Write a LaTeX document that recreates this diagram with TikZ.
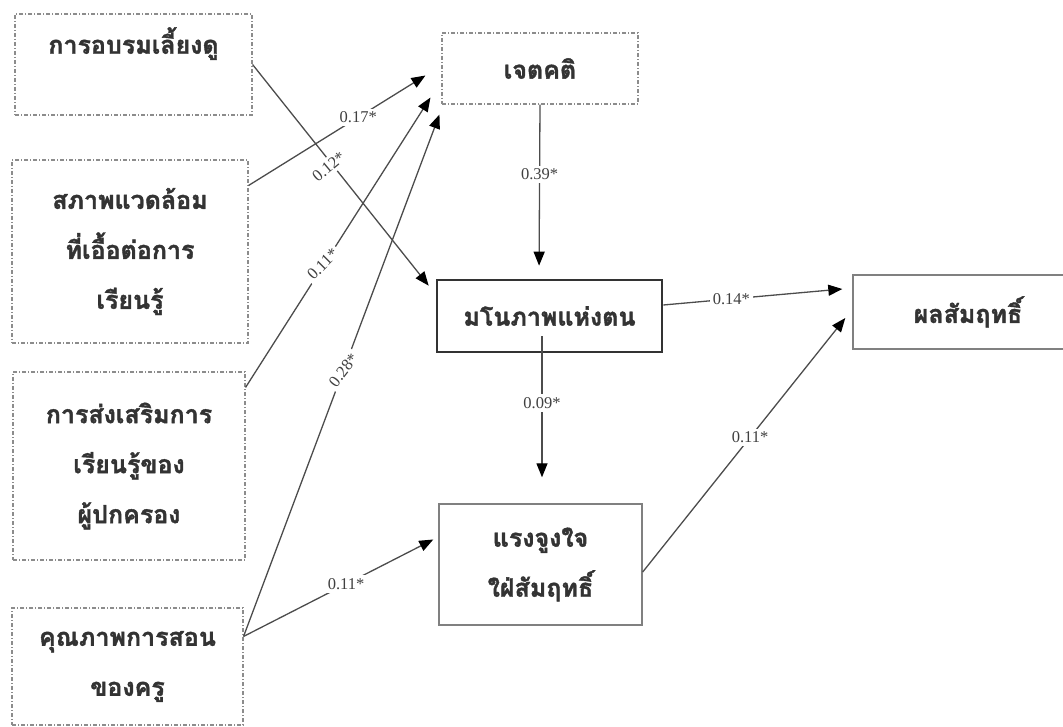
\documentclass[tikz,border=0pt]{standalone}
\usepackage{fontspec}
\setmainfont{Liberation Serif}
\newfontfamily\thaifont[Script=Thai, BoldFeatures={FakeBold=1.5}]{Loma}
\usepackage{tikz}
\usetikzlibrary{arrows.meta,positioning}
\tikzstyle{var_box}=[draw, align=center, inner sep=0pt, text=black!80,
font=\thaifont\bfseries\fontsize{25}{50}\selectfont]
\tikzstyle{exo_box}=[var_box, draw=black!45, line width=1.1pt,
dash pattern=on 4pt off 2pt on 1pt off 2pt]
\tikzstyle{endo_box}=[var_box, draw=black!50, line width=1.4pt]
\tikzstyle{self_box}=[var_box, draw=black!80, line width=2.6pt]
\tikzstyle{myarrow}=[-{Triangle[length=14pt,width=11pt,color=black]}, draw=black!70, line width=1.3pt]
\tikzstyle{coef}=[fill=white, inner sep=3pt, text=black!75, font=\fontsize{16.5}{16.5}\selectfont]

\begin{document}
\begin{tikzpicture}[x=1pt, y=-1pt]
		\useasboundingbox (0,0) rectangle (1063,727) ;

		% exogenous variables (left column)
		\node[exo_box, minimum width=237pt, minimum height=101pt] (A) at (133.5,64.5) {การอบรมเลี้ยงดู\\[-2pt]\mbox{}} ;
		\node[exo_box, minimum width=236pt, minimum height=183pt] (B) at (130,251.5) {สภาพแวดล้อม\\ที่เอื้อต่อการ\\เรียนรู้} ;
		\node[exo_box, minimum width=232pt, minimum height=188pt] (C) at (129,466) {การส่งเสริมการ\\เรียนรู้ของ\\ผู้ปกครอง} ;
		\node[exo_box, minimum width=231pt, minimum height=117pt] (D) at (127.5,666.5) {คุณภาพการสอน\\ของครู} ;

		% mediators and outcome
		\node[exo_box, minimum width=196pt, minimum height=71pt] (E) at (540,68.5) {เจตคติ} ;
		\node[self_box, minimum width=225pt, minimum height=72pt] (F) at (549.5,316) {มโนภาพแห่งตน} ;
		\node[endo_box, minimum width=203pt, minimum height=121pt] (H) at (540.5,564.5) {แรงจูงใจ\\ใฝ่สัมฤทธิ์} ;
		\node[endo_box, minimum width=230pt, minimum height=74pt] (G) at (968,312) {ผลสัมฤทธิ์} ;

		% paths to เจตคติ
		\draw[myarrow] ([yshift=66pt]B.east) -- node[coef, pos=.62] {0.17*} ([xshift=-16pt,yshift=-7pt]E.west) ;
		\draw[myarrow] ([yshift=-16pt]C.north east) -- node[coef, pos=.44, rotate=45, xshift=-6pt] {0.11*} ([xshift=-11pt,yshift=7pt]E.south west) ;
		\draw[myarrow] ([yshift=-29pt]D.north east) -- node[coef, pos=.51, rotate=52] {0.28*} ([xshift=-2pt,yshift=-10pt]E.south west) ;

		% paths to มโนภาพแห่งตน
		\draw[myarrow] (A.east) -- node[coef, pos=.45, rotate=40, xshift=-4pt] {0.12*} ([xshift=-7pt,yshift=-7pt]F.north west) ;
		\draw[myarrow, shorten >=13pt] (E.south) -- node[coef, pos=.4] {0.39*} ([xshift=-10.5pt]F.north) ;

		% paths to แรงจูงใจ
		\draw[myarrow, shorten >=26pt] ([xshift=-7.5pt,yshift=17pt]F.south) -- node[coef, pos=.4] {0.09*} ([xshift=1.5pt]H.north) ;
		\draw[myarrow] ([yshift=-29pt]D.north east) -- node[coef, pos=.54] {0.11*} ([xshift=-5pt,yshift=25pt]H.west) ;

		% paths to ผลสัมฤทธิ์
		\draw[myarrow] ([yshift=11pt]F.east) -- node[coef, pos=.38] {0.14*} ([xshift=-10pt,yshift=23pt]G.west) ;
		\draw[myarrow] ([yshift=-7.5pt]H.east) -- node[coef, pos=.53] {0.11*} ([xshift=-7pt,yshift=-6pt]G.west) ;

	\end{tikzpicture}
\end{document}
